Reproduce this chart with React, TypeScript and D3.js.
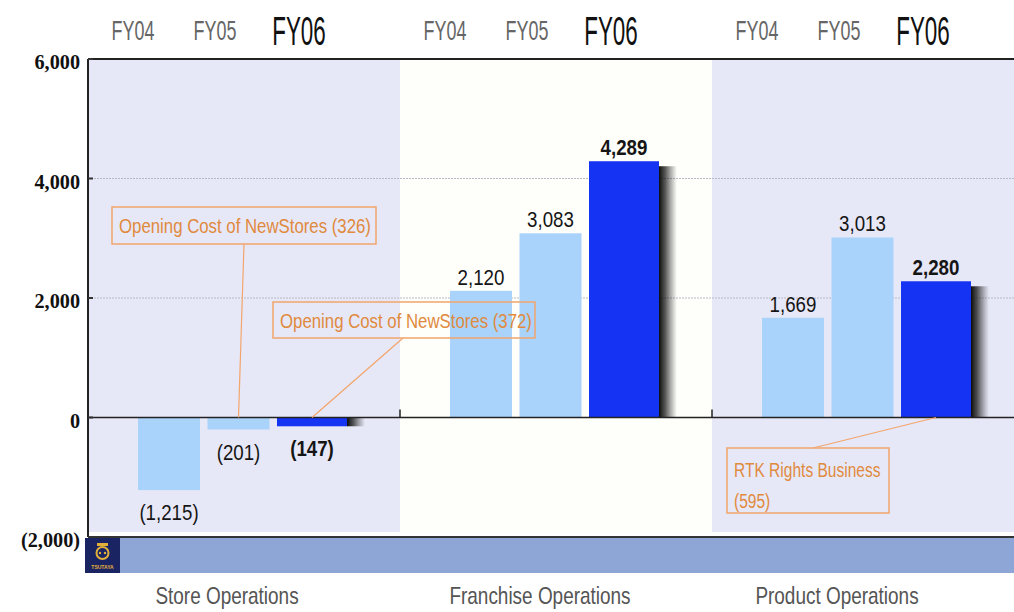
import React, { useEffect } from "react";
import * as d3 from "d3";

// Segment operating income (millions of yen) by fiscal year
const categories = ["Store Operations", "Franchise Operations", "Product Operations"];
const years = ["FY04", "FY05", "FY06"];
const storeValues = [-1215, -201, -147];
const franchiseValues = [2120, 3083, 4289];
const productValues = [1669, 3013, 2280];
const seriesByCategory = [storeValues, franchiseValues, productValues];
const yTicks = [6000, 4000, 2000, 0, -2000];
const gridTicks = [4000, 2000];

// Annotations: category index, year index, text lines
const noteCategory = [0, 0, 2];
const noteYear = [1, 2, 2];
const noteLines = [
  ["Opening Cost of NewStores (326)"],
  ["Opening Cost of NewStores (372)"],
  ["RTK Rights Business", "(595)"],
];

const W = 1014;
const H = 612;
const M = { left: 88, right: 1014, top: 59, bottom: 537 };

const SANS = "'Liberation Sans', Arial, sans-serif";
const SERIF = "'Liberation Serif', 'Times New Roman', serif";

const LIGHT = "#a9d3fa";
const DARK = "#1433f2";
const PANEL = "#e7e8f7";
const ORANGE_TEXT = "#e08a3e";
const ORANGE_LINE = "#f2a56c";

const fmt = d3.format(",");
const label = (v: number) => (v < 0 ? `(${fmt(-v)})` : fmt(v));

function Txt(props: {
  x: number;
  y: number;
  sx?: number;
  size: number;
  fill: string;
  weight?: string | number;
  family?: string;
  anchor?: "start" | "middle" | "end";
  children: React.ReactNode;
}) {
  const { x, y, sx = 1, size, fill, weight = "normal", family = SANS, anchor = "middle", children } = props;
  return (
    <text
      transform={`translate(${x},${y}) scale(${sx},1)`}
      fontSize={size}
      fill={fill}
      fontWeight={weight}
      fontFamily={family}
      textAnchor={anchor}
    >
      {children}
    </text>
  );
}

export default function App() {
  useEffect(() => {
    document.body.style.margin = "0";
  }, []);

  const y = d3.scaleLinear().domain([-2000, 6000]).range([M.bottom, M.top]);
  const groupX = d3.scaleBand<string>().domain(categories).range([M.left, M.left + 3 * 312]);
  const barX = d3.scaleBand<string>().domain(years).range([50, 251]).paddingInner(0.108);
  const bw = barX.bandwidth();
  const wide = 8; // current-year bar is drawn wider

  const barLeft = (ci: number, yi: number) => (groupX(categories[ci]) as number) + (barX(years[yi]) as number);
  const barWidth = (yi: number) => (yi === 2 ? bw + wide : bw);
  const barCenter = (ci: number, yi: number) => barLeft(ci, yi) + barWidth(yi) / 2;

  // Callout box geometry (x, y, w, h) and leader start point
  const boxes = [
    { x: 112, y: 207, w: 264, h: 37, lx: 244 },
    { x: 273, y: 302, w: 262, h: 36, lx: 403 },
    { x: 727, y: 448, w: 162, h: 65, lx: 813 },
  ];

  const yearLabelOffsets = [45, 127, 211];

  return (
    <svg width={W} height={H} style={{ position: "absolute", left: 0, top: 0, background: "#fff" }}>
      <defs>
        <linearGradient id="barShadow" x1="0" x2="1" y1="0" y2="0">
          <stop offset="0" stopColor="#000" stopOpacity={0.95} />
          <stop offset="0.35" stopColor="#111" stopOpacity={0.7} />
          <stop offset="1" stopColor="#333" stopOpacity={0} />
        </linearGradient>
      </defs>

      {/* category panels */}
      {categories.map((c, i) => (
        <rect
          key={c}
          x={groupX(c)}
          y={M.top}
          width={groupX.bandwidth()}
          height={532 - M.top}
          fill={i === 1 ? "#fefefa" : PANEL}
        />
      ))}

      {/* dotted grid */}
      {gridTicks.map((t) => (
        <line
          key={t}
          x1={M.left}
          x2={M.right}
          y1={y(t)}
          y2={y(t)}
          stroke="#b9b9c6"
          strokeWidth={1}
          strokeDasharray="2 1"
        />
      ))}

      {/* bars */}
      {seriesByCategory.map((vals, ci) =>
        vals.map((v, yi) => {
          const x0 = barLeft(ci, yi);
          const w = barWidth(yi);
          const top = Math.min(y(v), y(0));
          const h = Math.abs(y(v) - y(0));
          return (
            <g key={`${ci}-${yi}`}>
              {yi === 2 && (
                <rect
                  x={x0 + w}
                  y={v >= 0 ? top + 5 : top}
                  width={18}
                  height={v >= 0 ? h - 5 : h}
                  fill="url(#barShadow)"
                />
              )}
              <rect x={x0} y={top} width={w} height={h} fill={yi === 2 ? DARK : LIGHT} />
            </g>
          );
        })
      )}

      {/* frame lines */}
      <line x1={M.left} x2={M.right} y1={y(6000)} y2={y(6000)} stroke="#222" strokeWidth={2} />
      <line x1={M.left} x2={M.right} y1={y(0)} y2={y(0)} stroke="#222" strokeWidth={1.5} />
      <line x1={M.left} x2={M.right} y1={y(-2000)} y2={y(-2000)} stroke="#333" strokeWidth={2} />
      <line x1={M.left} x2={M.left} y1={y(6000)} y2={y(-2000)} stroke="#222" strokeWidth={2} />
      {yTicks.map((t) => (
        <line key={t} x1={M.left} x2={M.left + 5} y1={y(t)} y2={y(t)} stroke="#333" strokeWidth={2} />
      ))}
      {categories.slice(1).map((c) => (
        <line key={c} x1={groupX(c)} x2={groupX(c)} y1={y(0) - 8} y2={y(0)} stroke="#222" strokeWidth={1.5} />
      ))}

      {/* footer band and badge */}
      <rect x={120} y={538} width={M.right - 120} height={35} fill="#8ea6d6" />
      <rect x={85} y={538} width={35} height={35} fill="#1b2463" />
      <g fill="#e2b03a">
        <circle cx={102.5} cy={553} r={6} fill="none" stroke="#e2b03a" strokeWidth={2} />
        <rect x={97} y={543} width={11} height={3} />
        <circle cx={100} cy={553} r={1.2} />
        <circle cx={105} cy={553} r={1.2} />
        <text x={102.5} y={569} fontSize={5} fontFamily={SANS} fontWeight="bold" textAnchor="middle">
          TSUTAYA
        </text>
      </g>

      {/* y-axis labels */}
      {yTicks.map((t) => (
        <Txt key={t} x={80} y={y(t) + 10} size={22} fill="#111" weight="bold" family={SERIF} anchor="end" sx={0.92}>
          {label(t)}
        </Txt>
      ))}

      {/* year headers */}
      {categories.map((c, ci) =>
        years.map((yr, yi) => (
          <Txt
            key={`${c}-${yr}`}
            x={(groupX(c) as number) + yearLabelOffsets[yi]}
            y={yi === 2 ? 45 : 40}
            size={yi === 2 ? 40 : 28}
            sx={yi === 2 ? 0.56 : 0.64}
            fill={yi === 2 ? "#111" : "#666"}
          >
            {yr}
          </Txt>
        ))
      )}

      {/* value labels */}
      {seriesByCategory.map((vals, ci) =>
        vals.map((v, yi) => (
          <Txt
            key={`l-${ci}-${yi}`}
            x={barCenter(ci, yi)}
            y={v >= 0 ? y(v) - 6 : y(v) + 30}
            size={22}
            sx={0.85}
            fill="#151515"
            weight={yi === 2 ? "bold" : "normal"}
          >
            {label(v)}
          </Txt>
        ))
      )}

      {/* callouts */}
      {boxes.map((b, i) => (
        <g key={`note-${i}`}>
          <line
            x1={b.lx}
            y1={i === 2 ? b.y : b.y + b.h}
            x2={barCenter(noteCategory[i], noteYear[i])}
            y2={y(0)}
            stroke={ORANGE_LINE}
            strokeWidth={1.2}
          />
          <rect x={b.x} y={b.y} width={b.w} height={b.h} fill="none" stroke={ORANGE_LINE} strokeWidth={1.5} />
          {noteLines[i].map((ln, li) => (
            <Txt
              key={li}
              x={b.x + 7}
              y={noteLines[i].length > 1 ? b.y + 29 + li * 31 : b.y + 26}
              size={21}
              sx={noteLines[i].length > 1 ? 0.74 : 0.8}
              fill={ORANGE_TEXT}
              anchor="start"
            >
              {ln}
            </Txt>
          ))}
        </g>
      ))}

      {/* category names */}
      {categories.map((c, i) => (
        <Txt key={c} x={(groupX(c) as number) + [139, 140, 125][i]} y={604} size={24} sx={0.79} fill="#555">
          {c}
        </Txt>
      ))}
    </svg>
  );
}
